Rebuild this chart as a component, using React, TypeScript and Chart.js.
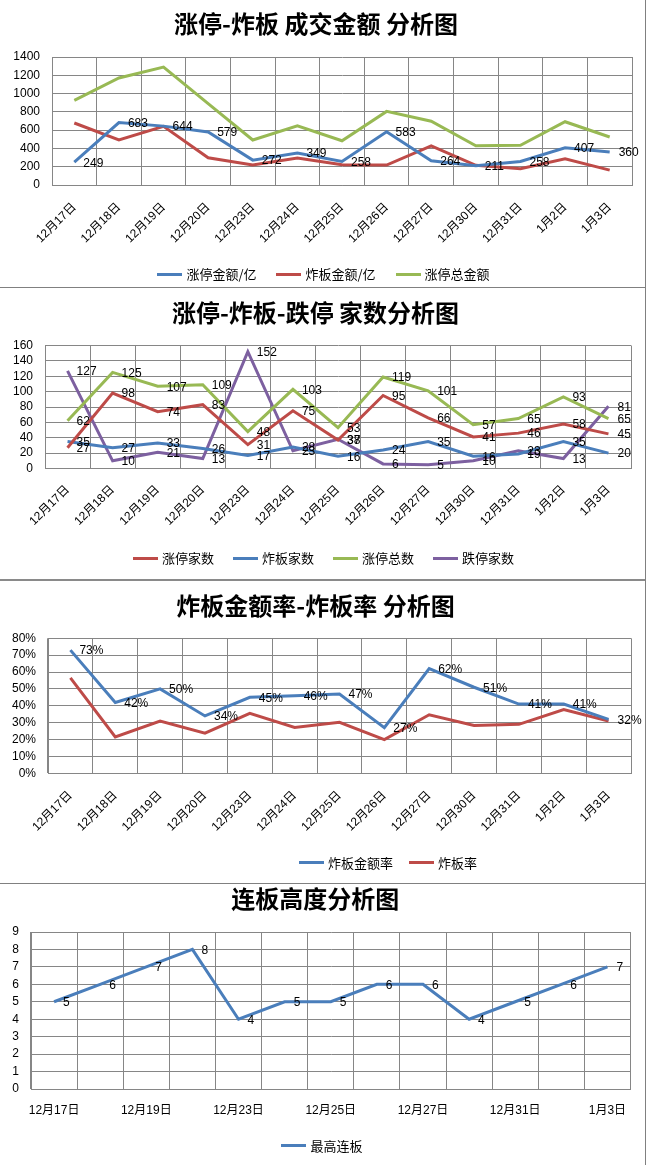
import React, { useEffect, useRef } from 'react';
import { Chart, registerables } from 'chart.js';

Chart.register(...registerables);

// ---------- data ----------
const dates = ['12月17日', '12月18日', '12月19日', '12月20日', '12月23日', '12月24日', '12月25日', '12月26日', '12月27日', '12月30日', '12月31日', '1月2日', '1月3日'];

// panel 1: 成交金额 (亿)
const ztAmount = [249, 683, 644, 579, 272, 349, 258, 583, 264, 211, 258, 407, 360];
const zbAmount = [678, 492, 642, 298, 220, 295, 222, 218, 428, 215, 177, 286, 163];
const ztTotalAmount = [925, 1170, 1290, 890, 492, 646, 484, 805, 698, 428, 435, 692, 525];

// panel 2: 家数
const ztCount = [27, 98, 74, 83, 31, 75, 37, 95, 66, 41, 46, 58, 45];
const zbCount = [35, 27, 33, 26, 17, 28, 16, 24, 35, 16, 19, 35, 20];
const ztTotalCount = [62, 125, 107, 109, 48, 103, 53, 119, 101, 57, 65, 93, 65];
const dtCount = [127, 10, 21, 13, 152, 23, 38, 6, 5, 10, 23, 13, 81];

// panel 3: 比率
const zbAmountRate = [0.73, 0.42, 0.5, 0.34, 0.45, 0.46, 0.47, 0.27, 0.62, 0.51, 0.41, 0.41, 0.32];
const zbRate = [0.565, 0.215, 0.31, 0.238, 0.355, 0.272, 0.302, 0.2, 0.347, 0.283, 0.29, 0.378, 0.31];

// panel 4: 连板高度
const maxBoard = [5, 6, 7, 8, 4, 5, 5, 6, 6, 4, 5, 6, 7];

// ---------- style ----------
const BLUE = '#4A7EBB';
const RED = '#BE4B48';
const GREEN = '#98B954';
const PURPLE = '#7D60A0';
const GRID = '#868686';
const FONT = '"Liberation Sans", "Noto Sans CJK SC", sans-serif';
const CJK = '"Noto Sans CJK SC", sans-serif';

type Series = { label: string; data: number[]; color: string; labels: boolean };
type PanelCfg = {
  top: number;
  height: number;
  title: string;
  titleTop: number;
  titleBottom: number;
  left: number;
  right: number;
  bottom: number;
  yMax: number;
  yStep: number;
  percent?: boolean;
  rotate: boolean;
  xPad: number;
  every: number;
  legendY: number;
  legendX: number;
  legendGap: number;
  series: Series[];
};

const panels: PanelCfg[] = [
  {
    top: 0, height: 287, title: '涨停-炸板 成交金额 分析图', titleTop: 9.6, titleBottom: 18.6,
    left: 52, right: 632, bottom: 185, yMax: 1400, yStep: 200, rotate: true, xPad: 15, every: 1,
    legendY: 274, legendX: 323.5, legendGap: 20,
    series: [
      { label: '涨停金额/亿', data: ztAmount, color: BLUE, labels: true },
      { label: '炸板金额/亿', data: zbAmount, color: RED, labels: false },
      { label: '涨停总金额', data: ztTotalAmount, color: GREEN, labels: false },
    ],
  },
  {
    top: 288, height: 291, title: '涨停-炸板-跌停 家数分析图', titleTop: 10.3, titleBottom: 18.4,
    left: 45, right: 631, bottom: 180.5, yMax: 160, yStep: 20, rotate: true, xPad: 14, every: 1,
    legendY: 270.3, legendX: 323.5, legendGap: 19,
    series: [
      { label: '涨停家数', data: ztCount, color: RED, labels: true },
      { label: '炸板家数', data: zbCount, color: BLUE, labels: true },
      { label: '涨停总数', data: ztTotalCount, color: GREEN, labels: true },
      { label: '跌停家数', data: dtCount, color: PURPLE, labels: true },
    ],
  },
  {
    top: 580, height: 303, title: '炸板金额率-炸板率 分析图', titleTop: 11.6, titleBottom: 17.9,
    left: 48, right: 631, bottom: 193.3, yMax: 0.8, yStep: 0.1, percent: true, rotate: true, xPad: 15, every: 1,
    legendY: 282.7, legendX: 388, legendGap: 16,
    series: [
      { label: '炸板金额率', data: zbAmountRate, color: BLUE, labels: true },
      { label: '炸板率', data: zbRate, color: RED, labels: false },
    ],
  },
  {
    top: 884, height: 281, title: '连板高度分析图', titleTop: 0.9, titleBottom: 18.3,
    left: 31, right: 630.5, bottom: 205, yMax: 9, yStep: 1, rotate: false, xPad: 14, every: 2,
    legendY: 261.7, legendX: 322, legendGap: 20,
    series: [{ label: '最高连板', data: maxBoard, color: BLUE, labels: true }],
  },
];

const W = 647;

const pointLabels = {
  id: 'pointLabels',
  afterDatasetsDraw(chart: any, _args: any, opts: any) {
    const ctx = chart.ctx;
    ctx.save();
    ctx.font = '12px ' + FONT;
    ctx.fillStyle = '#000';
    ctx.textAlign = 'left';
    ctx.textBaseline = 'middle';
    chart.data.datasets.forEach((ds: any, i: number) => {
      if (!ds.showLabels) return;
      const meta = chart.getDatasetMeta(i);
      meta.data.forEach((pt: any, j: number) => {
        const v = ds.data[j];
        const txt = opts && opts.percent ? Math.round(v * 100) + '%' : String(v);
        ctx.fillText(txt, pt.x + 9, pt.y + 1);
      });
    });
    ctx.restore();
  },
};

function Panel({ cfg }: { cfg: PanelCfg }) {
  const ref = useRef<HTMLCanvasElement | null>(null);
  useEffect(() => {
    if (!ref.current) return;
    const chart = new Chart(ref.current, {
      type: 'line',
      data: {
        labels: dates,
        datasets: cfg.series.map((s) => ({
          label: s.label,
          data: s.data,
          borderColor: s.color,
          backgroundColor: s.color,
          borderWidth: 3,
          pointRadius: 0,
          tension: 0,
          fill: false,
          showLabels: s.labels,
        })) as any,
      },
      options: {
        animation: false,
        responsive: false,
        maintainAspectRatio: false,
        layout: { padding: { left: 0, right: W - cfg.right, top: 0, bottom: 0 } },
        plugins: {
          legend: { display: false },
          tooltip: { enabled: false },
          title: {
            display: true,
            text: cfg.title,
            color: '#000',
            font: { family: CJK, size: 24, weight: 'bold', lineHeight: 1.2 },
            padding: { top: cfg.titleTop, bottom: cfg.titleBottom },
          },
          pointLabels: { percent: !!cfg.percent },
        } as any,
        scales: {
          x: {
            type: 'category',
            offset: true,
            grid: { offset: true, color: GRID, lineWidth: 1, drawTicks: false },
            border: { color: GRID, width: 1 },
            ticks: {
              autoSkip: false,
              minRotation: cfg.rotate ? 45 : 0,
              maxRotation: cfg.rotate ? 45 : 0,
              padding: cfg.xPad,
              color: '#000',
              font: { family: FONT, size: 12 },
              callback: (_v: any, i: number) => (i % cfg.every === 0 ? dates[i] : ''),
            },
            afterFit: (s: any) => {
              s.height = cfg.height - cfg.bottom;
            },
          },
          y: {
            min: 0,
            max: cfg.yMax,
            grid: { color: GRID, lineWidth: 1, drawTicks: false },
            border: { color: GRID, width: 1 },
            ticks: {
              autoSkip: false,
              stepSize: cfg.yStep,
              padding: 12,
              color: '#000',
              font: { family: FONT, size: 12 },
              callback: (v: any) => (cfg.percent ? Math.round(Number(v) * 100) + '%' : String(v)),
            },
            afterFit: (s: any) => {
              s.width = cfg.left;
            },
          },
        },
      } as any,
      plugins: [pointLabels as any],
    });
    return () => chart.destroy();
  }, [cfg]);

  return (
    <div style={{ position: 'absolute', left: 0, top: cfg.top, width: W, height: cfg.height }}>
      <canvas ref={ref} width={W} height={cfg.height} style={{ display: 'block', width: W, height: cfg.height }} />
      <div
        style={{
          position: 'absolute',
          left: cfg.legendX - 300,
          width: 600,
          top: cfg.legendY - 9,
          height: 18,
          display: 'flex',
          justifyContent: 'center',
          alignItems: 'center',
          gap: cfg.legendGap,
          fontFamily: CJK,
          fontSize: 13,
          color: '#000',
          lineHeight: '18px',
        }}
      >
        {cfg.series.map((s) => (
          <div key={s.label} style={{ display: 'flex', alignItems: 'center' }}>
            <span style={{ display: 'inline-block', width: 25, height: 3, background: s.color, marginRight: 4 }} />
            <span>{s.label}</span>
          </div>
        ))}
      </div>
    </div>
  );
}

export default function App() {
  return (
    <div
      style={{
        position: 'absolute',
        left: 0,
        top: 0,
        width: W,
        height: 1165,
        background: '#fff',
        overflow: 'hidden',
      }}
    >
      {panels.map((p) => (
        <Panel key={p.title} cfg={p} />
      ))}
      <div style={{ position: 'absolute', left: 0, top: 287, width: 646, height: 1, background: '#808080' }} />
      <div style={{ position: 'absolute', left: 0, top: 579, width: 646, height: 2, background: '#8a8a8a' }} />
      <div style={{ position: 'absolute', left: 0, top: 883, width: 646, height: 1, background: '#808080' }} />
      <div style={{ position: 'absolute', left: 645, top: 0, width: 1, height: 1165, background: '#808080' }} />
    </div>
  );
}
